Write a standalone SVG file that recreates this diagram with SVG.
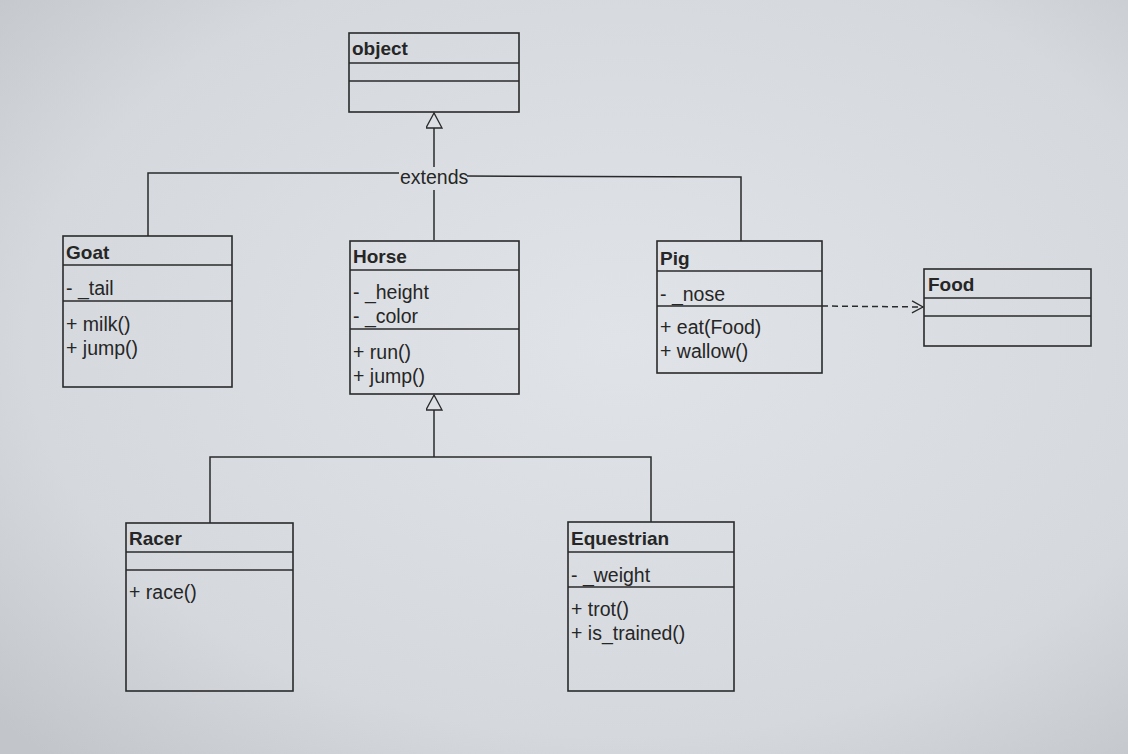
<svg xmlns="http://www.w3.org/2000/svg" width="1128" height="754" viewBox="0 0 1128 754">
<defs>
<radialGradient id="bg" cx="0.55" cy="0.45" r="0.75">
<stop offset="0" stop-color="#e0e3e7"/>
<stop offset="0.7" stop-color="#d5d9de"/>
<stop offset="1" stop-color="#c2c6cb"/>
</radialGradient>
<marker id="tri" markerWidth="18" markerHeight="18" refX="16" refY="8" orient="auto" markerUnits="userSpaceOnUse" viewBox="0 0 18 18">
<path d="M16 8 L1 0 L1 16 Z" fill="#dde0e4" stroke="#2a2a2a" stroke-width="1.3"/>
</marker>
<marker id="open" markerWidth="14" markerHeight="14" refX="12" refY="7" orient="auto" markerUnits="userSpaceOnUse">
<path d="M1 1 L12 7 L1 13" fill="none" stroke="#2a2a2a" stroke-width="1.3"/>
</marker>
</defs>
<style>
.box{fill:none;stroke:#2a2a2a;stroke-width:1.6}
.ln{fill:none;stroke:#2a2a2a;stroke-width:1.6}
.t{font-family:"Liberation Sans",Arial,sans-serif;font-size:19.5px;fill:#262626}
.h{font-family:"Liberation Sans",Arial,sans-serif;font-size:19px;font-weight:bold;fill:#262626}
.c{fill:none;stroke:#2a2a2a;stroke-width:1.5}
</style>
<rect x="0" y="0" width="1128" height="754" fill="url(#bg)"/>

<g id="connectors">
<path class="c" d="M434 240 L434 190"/>
<path class="c" d="M434 167 L434 113" marker-end="url(#tri)"/>
<path class="c" d="M148 236 L148 173 L399 173"/>
<path class="c" d="M467 176 L741 177 L741 241"/>
<text class="t" x="400" y="184">extends</text>
<path class="c" d="M210 523 L210 457 L651 457 L651 522"/>
<path class="c" d="M434 457 L434 395" marker-end="url(#tri)"/>
<path class="c" d="M822 306 L923 307" stroke-dasharray="6,4" marker-end="url(#open)"/>
</g>

<g id="object">
<rect class="box" x="349" y="33" width="170" height="79"/>
<line class="ln" x1="349" y1="63" x2="519" y2="63"/>
<line class="ln" x1="349" y1="81" x2="519" y2="81"/>
<text class="h" x="352" y="55">object</text>
</g>

<g id="goat">
<rect class="box" x="63" y="236" width="169" height="151"/>
<line class="ln" x1="63" y1="265" x2="232" y2="265"/>
<line class="ln" x1="63" y1="301" x2="232" y2="301"/>
<text class="h" x="66" y="259">Goat</text>
<text class="t" x="66" y="295">- _tail</text>
<text class="t" x="66" y="331">+ milk()</text>
<text class="t" x="66" y="355">+ jump()</text>
</g>

<g id="horse">
<rect class="box" x="350" y="241" width="169" height="153"/>
<line class="ln" x1="350" y1="270" x2="519" y2="270"/>
<line class="ln" x1="350" y1="329" x2="519" y2="329"/>
<text class="h" x="353" y="263">Horse</text>
<text class="t" x="353" y="299">- _height</text>
<text class="t" x="353" y="323">- _color</text>
<text class="t" x="353" y="359">+ run()</text>
<text class="t" x="353" y="383">+ jump()</text>
</g>

<g id="pig">
<rect class="box" x="657" y="241" width="165" height="132"/>
<line class="ln" x1="657" y1="271" x2="822" y2="271"/>
<line class="ln" x1="657" y1="306" x2="822" y2="306"/>
<text class="h" x="660" y="265">Pig</text>
<text class="t" x="660" y="301">- _nose</text>
<text class="t" x="660" y="334">+ eat(Food)</text>
<text class="t" x="660" y="358">+ wallow()</text>
</g>

<g id="food">
<rect class="box" x="924" y="269" width="167" height="77"/>
<line class="ln" x1="924" y1="298" x2="1091" y2="298"/>
<line class="ln" x1="924" y1="316" x2="1091" y2="316"/>
<text class="h" x="928" y="291">Food</text>
</g>

<g id="racer">
<rect class="box" x="126" y="523" width="167" height="168"/>
<line class="ln" x1="126" y1="552" x2="293" y2="552"/>
<line class="ln" x1="126" y1="570" x2="293" y2="570"/>
<text class="h" x="129" y="545">Racer</text>
<text class="t" x="129" y="599">+ race()</text>
</g>

<g id="equestrian">
<rect class="box" x="568" y="522" width="166" height="169"/>
<line class="ln" x1="568" y1="552" x2="734" y2="552"/>
<line class="ln" x1="568" y1="587" x2="734" y2="587"/>
<text class="h" x="571" y="545">Equestrian</text>
<text class="t" x="571" y="582">- _weight</text>
<text class="t" x="571" y="616">+ trot()</text>
<text class="t" x="571" y="640">+ is_trained()</text>
</g>
</svg>
